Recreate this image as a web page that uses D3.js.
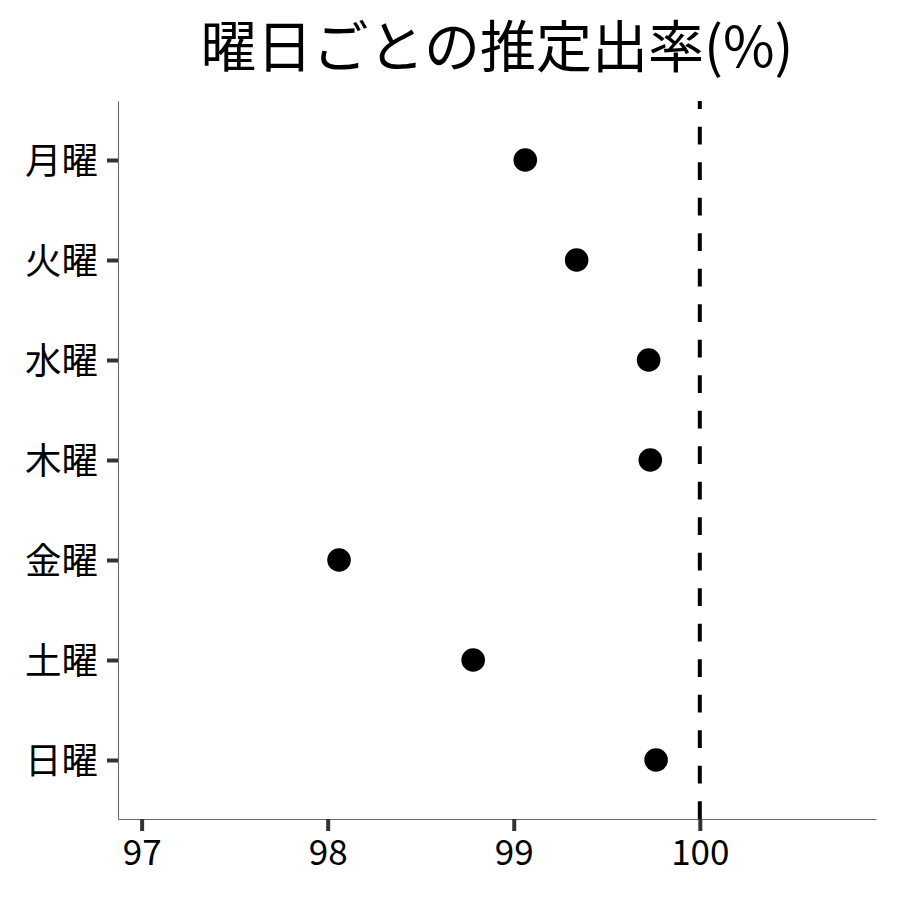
<!DOCTYPE html>
<html>
<head>
<meta charset="utf-8">
<script src="https://cdn.jsdelivr.net/npm/d3@7"></script>
<style>
  body { margin: 0; background: #fff; }
  text { font-family: "Noto Sans CJK JP", "Noto Sans", sans-serif; }
</style>
</head>
<body>
<div id="chart"></div>
<script>
// values
const days = ["月曜", "火曜", "水曜", "木曜", "金曜", "土曜", "日曜"];
const rates = [99.062, 99.338, 99.725, 99.734, 98.061, 98.782, 99.765];
const xTicks = [97, 98, 99, 100];
const refLine = 100;
const title = "曜日ごとの推定出率(%)";

let margin = { top: 101, right: 24, bottom: 81, left: 118 },
    width = 900 - margin.left - margin.right,
    height = 900 - margin.top - margin.bottom;

let svg = d3.select("#chart")
    .append("svg")
    .attr("width", 900)
    .attr("height", 900)
    .append("g")
    .attr("transform", "translate(" + margin.left + "," + margin.top + ")");

let x = d3.scaleLinear().domain([96.873, 100.947]).range([0, width]);
let y = d3.scalePoint().domain(days).range([0, height]).padding(0.59);

// x axis
let xAxisGroup = svg.append("g")
    .attr("class", "x-axis")
    .attr("transform", "translate(0," + height + ")")
    .call(d3.axisBottom(x).tickValues(xTicks).tickSizeInner(12).tickSizeOuter(0)
        .tickPadding(8).tickFormat(d3.format("d")));

// y axis
let yAxisGroup = svg.append("g")
    .attr("class", "y-axis")
    .call(d3.axisLeft(y).tickSizeInner(11).tickSizeOuter(0).tickPadding(9));

[xAxisGroup, yAxisGroup].forEach(g => {
    g.select(".domain").attr("stroke", "#666").attr("stroke-width", 1.1);
    g.selectAll(".tick line").attr("stroke", "#333").attr("stroke-width", 4);
    g.selectAll(".tick text").attr("fill", "#000");
});
xAxisGroup.selectAll(".tick text").style("font-size", "35px").attr("dy", "0.75em");
yAxisGroup.selectAll(".tick text").style("font-size", "36.5px").attr("dy", "0.36em");

// reference line, drawn bottom-up so the dash pattern starts at the axis
svg.append("line")
    .attr("x1", x(refLine)).attr("x2", x(refLine))
    .attr("y1", height).attr("y2", 0)
    .attr("stroke", "#000")
    .attr("stroke-width", 4)
    .attr("stroke-dasharray", "17.75,17.75");

// points
svg.selectAll(".dot")
    .data(days.map((d, i) => ({ day: d, rate: rates[i] })))
    .enter()
    .append("circle")
    .attr("class", "dot")
    .attr("cx", d => x(d.rate))
    .attr("cy", d => y(d.day))
    .attr("r", 11.8)
    .attr("fill", "#000");

// title
svg.append("text")
    .attr("x", width / 2)
    .attr("y", -34)
    .attr("text-anchor", "middle")
    .style("font-size", "56px")
    .attr("fill", "#000")
    .text(title);
</script>
</body>
</html>
